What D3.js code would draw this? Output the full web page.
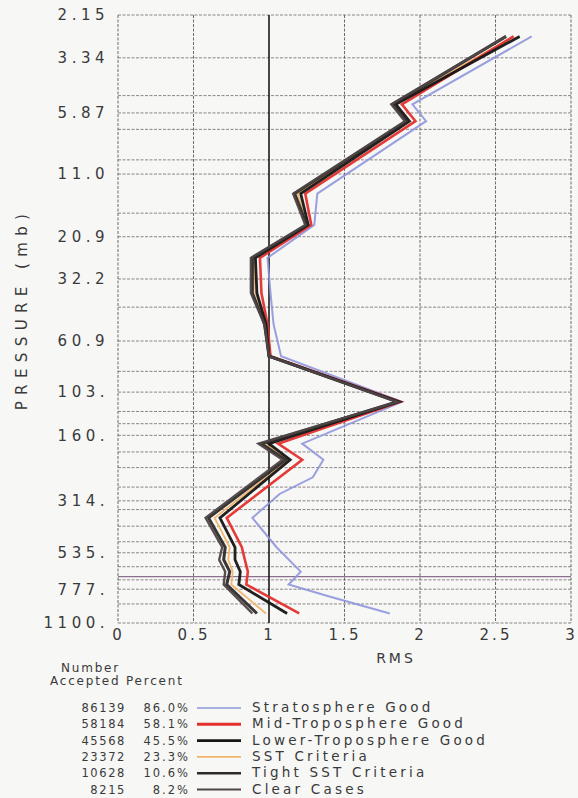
<!DOCTYPE html>
<html>
<head>
<meta charset="utf-8">
<script src="https://cdn.jsdelivr.net/npm/d3@7"></script>
<style>
  html, body { margin: 0; padding: 0; background: #f7f7f6; }
  svg { display: block; }
  text { font-family: "DejaVu Sans", "Liberation Sans", sans-serif; fill: #3a3a3a; }
</style>
</head>
<body>
<svg id="chart" width="578" height="798"></svg>
<script>
// ---- data ----
const gridLevels = [2.1526, 3.3398, 4.9204, 5.8776, 6.9567, 9.5119, 11.0038, 16.4318, 20.9224, 32.2744,
  43.1001, 60.9895, 83.231, 103.017, 125.646, 142.385, 160.496, 190.32, 223.441, 272.919, 314.137,
  343.618, 407.474, 477.961, 535.232, 617.511, 683.667, 706.565, 777.79, 904.866, 1100];
const tickLevels = [2.1526, 3.3398, 5.8776, 11.0038, 20.9224, 32.2744, 60.9895, 103.017, 160.496, 314.137, 535.232, 777.79, 1100];
const tickLabels = ["2.15", "3.34", "5.87", "11.0", "20.9", "32.2", "60.9", "103.", "160.", "314.", "535.", "777.", "1100."];
const rmsTicks = [0, 0.5, 1, 1.5, 2, 2.5, 3];
const rmsTickLabels = ["0", "0.5", "1", "1.5", "2", "2.5", "3"];

// layer-mid pressures (mb) where the profiles bend
const levels = [2.681, 5.378, 6.395, 13.447, 18.542, 25.986, 37.297, 51.27, 71.25, 113.77, 174.77, 206.2, 374.2, 505.8, 574.9, 649.7, 741.3, 997.7];
const midTropGood   = [2.62, 1.88, 1.97, 1.24, 1.28, 0.94, 0.95, 0.99, 1.01, 1.87, 1.06, 1.22, 0.72, 0.82, 0.84, 0.86, 0.85, 1.20];
const lowerTropGood = [2.66, 1.84, 1.93, 1.21, 1.26, 0.91, 0.92, 0.98, 1.00, 1.86, 1.00, 1.14, 0.675, 0.775, 0.775, 0.81, 0.80, 1.12];
const sstCriteria   = [2.62, 1.83, 1.92, 1.19, 1.25, 0.90, 0.91, 0.98, 1.00, 1.86, 0.97, 1.13, 0.64, 0.74, 0.73, 0.76, 0.75, 0.98];
const tightSST      = [2.57, 1.82, 1.91, 1.17, 1.25, 0.89, 0.89, 0.97, 1.00, 1.85, 0.95, 1.11, 0.60, 0.71, 0.70, 0.74, 0.72, 0.92];
const clearCases    = [2.57, 1.81, 1.90, 1.16, 1.24, 0.88, 0.88, 0.97, 1.00, 1.85, 0.93, 1.09, 0.58, 0.69, 0.67, 0.71, 0.70, 0.89];

const stratLevels = [2.681, 5.378, 6.395, 13.447, 18.542, 25.986, 37.297, 51.27, 71.25, 113.77, 174.77, 206.2, 246.9, 292.8, 374.2, 505.8, 649.7, 741.3, 838.9, 997.7];
const stratGood   = [2.74, 1.95, 2.04, 1.32, 1.30, 0.99, 1.01, 1.03, 1.08, 1.88, 1.22, 1.36, 1.29, 1.07, 0.89, 1.05, 1.21, 1.13, 1.40, 1.80];

const seriesNames = ["Stratosphere Good", "Mid-Troposphere Good", "Lower-Troposphere Good", "SST Criteria", "Tight SST Criteria", "Clear Cases"];
const numberAccepted = ["86139", "58184", "45568", "23372", "10628", "8215"];
const percentAccepted = ["86.0%", "58.1%", "45.5%", "23.3%", "10.6%", "8.2%"];

// ---- styles ----
const styles = [
  { color: "#8f96dc", width: 2.0 },
  { color: "#e3302e", width: 2.6 },
  { color: "#151515", width: 2.8 },
  { color: "#f0b46a", width: 1.8 },
  { color: "#2e2a2a", width: 3.0 },
  { color: "#4e4646", width: 2.4 }
];
const drawOrder = [0, 3, 1, 2, 4, 5];

const svg = d3.select("#chart");
const x = d3.scaleLinear().domain([0, 3]).range([118, 571]);
const y = d3.scaleLog().domain([2.1526, 1100]).range([15, 623]);

// horizontal grid
svg.append("g").selectAll("line").data(gridLevels).join("line")
  .attr("x1", x(0)).attr("x2", x(3))
  .attr("y1", d => y(d)).attr("y2", d => y(d))
  .attr("stroke", d => d === 683.667 ? "#8c6f8e" : "#6e6a6a")
  .attr("stroke-width", d => d === 683.667 ? 1.2 : 0.8)
  .attr("stroke-dasharray", d => d === 683.667 ? null : "3,1.5");

// vertical grid
svg.append("g").selectAll("line").data(rmsTicks.filter(v => v !== 1)).join("line")
  .attr("x1", d => x(d)).attr("x2", d => x(d))
  .attr("y1", y(2.1526)).attr("y2", y(1100))
  .attr("stroke", "#5e5a5a").attr("stroke-width", 0.9)
  .attr("stroke-dasharray", "3,1.5");
svg.append("line")
  .attr("x1", x(1)).attr("x2", x(1)).attr("y1", y(2.1526)).attr("y2", y(1100))
  .attr("stroke", "#1a1a1a").attr("stroke-width", 1.6);

// y axis
const yAxis = d3.axisLeft(y).tickValues(tickLevels).tickSize(0).tickPadding(9)
  .tickFormat((d, i) => tickLabels[i]);
const gy = svg.append("g").attr("transform", `translate(${x(0)},0)`).call(yAxis);
gy.select(".domain").remove();
gy.selectAll("text").attr("font-size", 15).attr("letter-spacing", "4.5px")
  .style("font-family", "'DejaVu Sans', sans-serif").attr("fill", "#3a3a3a");

// x axis
const xAxis = d3.axisBottom(x).tickValues(rmsTicks).tickSize(0).tickPadding(6)
  .tickFormat((d, i) => rmsTickLabels[i]);
const gx = svg.append("g").attr("transform", `translate(0,${y(1100)})`).call(xAxis);
gx.select(".domain").remove();
gx.selectAll("text").attr("font-size", 15).attr("letter-spacing", "3px")
  .style("font-family", "'DejaVu Sans', sans-serif").attr("fill", "#3a3a3a");

// axis titles
svg.append("text").attr("transform", "translate(27,309) rotate(-90)")
  .attr("text-anchor", "middle").attr("font-size", 15).attr("letter-spacing", "6.4px")
  .text("PRESSURE (mb)");
svg.append("text").attr("x", 396).attr("y", 663).attr("text-anchor", "middle")
  .attr("font-size", 14).attr("letter-spacing", "3px").text("RMS");

// profiles
const line = d3.line().x(d => x(d.r)).y(d => y(d.p));
const seriesData = [
  stratLevels.map((p, i) => ({ p, r: stratGood[i] })),
  levels.map((p, i) => ({ p, r: midTropGood[i] })),
  levels.map((p, i) => ({ p, r: lowerTropGood[i] })),
  levels.map((p, i) => ({ p, r: sstCriteria[i] })),
  levels.map((p, i) => ({ p, r: tightSST[i] })),
  levels.map((p, i) => ({ p, r: clearCases[i] }))
];
svg.append("g").selectAll("path").data(drawOrder).join("path")
  .attr("d", k => line(seriesData[k]))
  .attr("fill", "none")
  .attr("stroke", k => styles[k].color)
  .attr("stroke-width", k => styles[k].width)
  .attr("stroke-linejoin", "miter")
  .attr("stroke-opacity", k => k === 0 ? 0.9 : 0.95);

// legend header
svg.append("text").attr("x", 61).attr("y", 672).attr("font-size", 12).attr("letter-spacing", "1.8px").text("Number");
svg.append("text").attr("x", 50).attr("y", 685).attr("font-size", 12).attr("letter-spacing", "1.8px").text("Accepted Percent");

// legend rows
const lg = svg.append("g");
const rowY = i => 712 + i * 16.3;
lg.selectAll(".num").data(numberAccepted).join("text")
  .attr("x", 126).attr("y", (d, i) => rowY(i)).attr("text-anchor", "end")
  .attr("font-size", 11.5).attr("letter-spacing", "1.6px").text(d => d);
lg.selectAll(".pct").data(percentAccepted).join("text")
  .attr("x", 190).attr("y", (d, i) => rowY(i)).attr("text-anchor", "end")
  .attr("font-size", 11.5).attr("letter-spacing", "2px").text(d => d);
lg.selectAll("line").data(seriesNames).join("line")
  .attr("x1", 197).attr("x2", 241)
  .attr("y1", (d, i) => rowY(i) - 4).attr("y2", (d, i) => rowY(i) - 4)
  .attr("stroke", (d, i) => styles[i].color)
  .attr("stroke-width", (d, i) => [1.5, 3, 2.6, 1.8, 2.6, 1.8][i]);
lg.selectAll(".lab").data(seriesNames).join("text")
  .attr("x", 252).attr("y", (d, i) => rowY(i)).attr("font-size", 13.5)
  .attr("letter-spacing", "3.2px").text(d => d);
</script>
</body>
</html>
